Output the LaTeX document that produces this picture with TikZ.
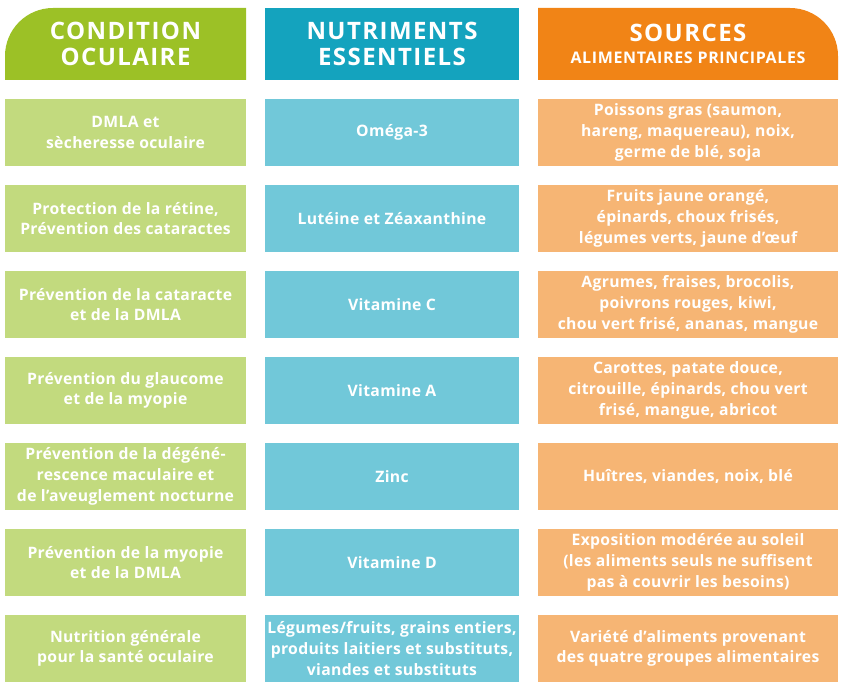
\documentclass[tikz,border=0pt]{standalone}
\usepackage{fontspec}
\setmainfont{Open Sans}[LetterSpace=2]
\definecolor{gH}{HTML}{9CC126}
\definecolor{gL}{HTML}{C2DA7E}
\definecolor{bH}{HTML}{14A3BE}
\definecolor{bL}{HTML}{71C8D9}
\definecolor{oH}{HTML}{F18416}
\definecolor{oL}{HTML}{F6B574}
\begin{document}
\begin{tikzpicture}[x=0.75pt,y=-0.75pt,
  cell/.style={text=white,font=\fontsize{11.8}{15.5}\selectfont\bfseries,align=center},
  head/.style={text=white,font=\fontsize{18}{20}\selectfont\bfseries\addfontfeatures{LetterSpace=6},align=center}]
\useasboundingbox (0,0) rectangle (842,688);
% headers
\fill[gH] (5,80) [rounded corners=36pt] -- (5,8) [sharp corners] -- (246,8) -- (246,80) -- cycle;
\fill[bH] (265,8) rectangle (519,80);
\fill[oH] (538,80) -- (538,8) [rounded corners=36pt] -- (838,8) [sharp corners] -- (838,80) -- cycle;
\node[head] (h1) at (125.5,44) {CONDITION\\OCULAIRE};
\node[head] (h2) at (392,44) {NUTRIMENTS\\ESSENTIELS};
\node[head,font=\fontsize{18}{17}\selectfont\bfseries\addfontfeatures{LetterSpace=6}] (h3) at (688,44) {SOURCES\\[-1pt]{\fontsize{12}{13}\selectfont\addfontfeatures{LetterSpace=4} ALIMENTAIRES PRINCIPALES}};
\foreach \i/\a/\b/\c in {
0/{DMLA et\\sècheresse oculaire}/{Oméga-3}/{Poissons gras (saumon,\\hareng, maquereau), noix,\\germe de blé, soja},
1/{Protection de la rétine,\\Prévention des cataractes}/{Lutéine et Zéaxanthine}/{Fruits jaune orangé,\\épinards, choux frisés,\\légumes verts, jaune d’œuf},
2/{Prévention de la cataracte\\et de la DMLA}/{Vitamine C}/{Agrumes, fraises, brocolis,\\poivrons rouges, kiwi,\\chou vert frisé, ananas, mangue},
3/{Prévention du glaucome\\et de la myopie}/{Vitamine A}/{Carottes, patate douce,\\citrouille, épinards, chou vert\\frisé, mangue, abricot},
4/{Prévention de la dégéné-\\rescence maculaire et\\de l'aveuglement nocturne}/{Zinc}/{Huîtres, viandes, noix, blé},
5/{Prévention de la myopie\\et de la DMLA}/{Vitamine D}/{Exposition modérée au soleil\\(les aliments seuls ne suffisent\\pas à couvrir les besoins)},
6/{Nutrition générale\\pour la santé oculaire}/{Légumes/fruits, grains entiers,\\produits laitiers et substituts,\\viandes et substituts}/{Variété d’aliments provenant\\des quatre groupes alimentaires}}{
  \pgfmathsetmacro\yt{99+86*\i}
  \fill[gL] (5,\yt) rectangle (246,\yt+67);
  \fill[bL] (265,\yt) rectangle (519,\yt+67);
  \fill[oL] (538,\yt) rectangle (838,\yt+67);
  \node[cell] (a\i) at (125.5,\yt+33.5) {\a};
  \node[cell] (b\i) at (392,\yt+33.5) {\b};
  \node[cell] (c\i) at (688,\yt+33.5) {\c};
}
\end{tikzpicture}
\end{document}
